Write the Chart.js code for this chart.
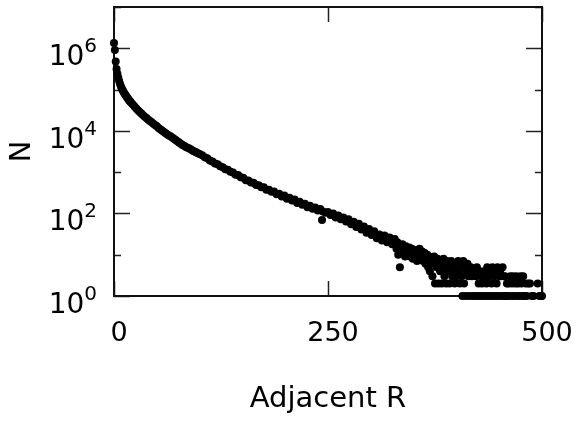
<!DOCTYPE html>
<html>
<head>
<meta charset="utf-8">
<script src="https://cdn.jsdelivr.net/npm/chart.js@4.4.1/dist/chart.umd.min.js"></script>
<style>
  html, body { margin: 0; padding: 0; background: #fff; }
</style>
</head>
<body>
<canvas id="myChart" width="577" height="423"></canvas>
<script>
// Distancia R y número de pares N
const adjacentR = [
    0, 1, 2, 3, 4, 5, 6, 7, 8, 9, 10, 11, 12, 13, 14, 15, 16, 17, 18, 19, 20,
    22, 24, 26, 28, 30, 32, 34, 36, 38, 40, 42, 44, 46, 48, 50, 52, 54, 56, 58, 60,
    62, 64, 66, 68, 70, 72, 74, 76, 78, 80, 82, 84, 86, 88, 90, 92, 94, 96, 98, 100,
    103, 106, 109, 112, 115, 118, 121, 124, 127, 130, 133, 136, 139, 142, 145, 148, 151, 154, 157, 160,
    163, 166, 169, 172, 175, 178, 181, 184, 187, 190, 193, 196, 199, 202, 205, 208, 211, 214, 217, 220,
    223, 226, 229, 232, 235, 238, 241, 243, 244, 247, 250, 253, 256, 259, 262, 265, 268, 271, 274, 277,
    280, 283, 286, 289, 292, 295, 298, 301, 304, 307, 310, 313, 316, 319, 322, 325, 328,
    330, 331, 332, 333, 334, 335, 336, 337, 338, 339, 340, 341, 342, 343, 344, 345, 346, 347, 348, 349,
    350, 352, 353, 354, 355, 356, 357, 358, 359, 360, 361, 362, 363, 364, 365, 366, 367, 368, 369, 370,
    371, 372, 373, 374, 375, 376, 377, 378, 379, 380, 381, 382, 383, 384, 385, 386, 387, 388, 389, 390,
    391, 392, 393, 394, 395, 396, 397, 398, 399, 400, 401, 402, 403, 404, 405, 406, 407, 408, 409, 410,
    411, 412, 413, 414, 415, 416, 417, 418, 419, 420, 421, 422, 423, 424, 425, 426, 427, 428, 429, 430,
    431, 432, 433, 434, 435, 436, 437, 438, 439, 440, 441, 442, 443, 444, 445, 446, 447, 448, 449, 450,
    451, 452, 453, 454, 455, 456, 457, 458, 459, 460, 461, 463, 464, 465, 466, 467, 469, 470, 471, 472,
    474, 475, 476, 477, 478, 479, 481, 482, 484, 486, 488, 490, 495, 497, 499, 500
];
const countN = [
    1350000, 912000, 479000, 316000, 240000, 195000, 162000, 138000, 120000, 107000, 97700, 89100, 81300, 75900, 70800, 66100, 61700, 57500, 53700, 51300, 47900,
    43700, 38900, 34700, 31600, 28800, 26300, 24000, 21900, 20400, 18600, 17400, 16200, 14800, 13800, 12900, 11700, 11000, 10200, 9550, 8910,
    8320, 7760, 7410, 6920, 6460, 6030, 5620, 5250, 4900, 4570, 4370, 4070, 3890, 3720, 3550, 3310, 3160, 3020, 2880, 2750,
    2560, 2290, 2180, 1910, 1810, 1620, 1550, 1380, 1320, 1170, 1150, 1020, 980, 866, 850, 755, 730, 640, 630, 560,
    555, 488, 482, 430, 428, 376, 372, 335, 338, 290, 301, 258, 270, 228, 241, 205, 216, 180, 193, 162,
    172, 141, 154, 130, 140, 118, 128, 69, 112, 104, 108, 92, 99, 80, 89, 72, 80, 64, 72, 55,
    63, 47, 56, 41, 48, 34, 42, 30, 37, 25, 31, 22, 29, 20, 26, 18, 24,
    14, 20, 10, 17, 5, 15, 12, 18, 11, 14, 9, 16, 12, 10, 13, 15, 9, 11, 14, 8,
    12, 10, 13, 7, 11, 9, 14, 8, 10, 12, 7, 9, 11, 6, 8, 10, 5, 9, 4, 7,
    8, 3, 6, 9, 2, 7, 5, 8, 2, 6, 4, 7, 2, 5, 8, 3, 6, 2, 7, 4,
    6, 2, 5, 7, 3, 6, 4, 2, 6, 3, 5, 7, 4, 2, 6, 3, 1, 7, 2, 5,
    1, 4, 6, 3, 1, 4, 5, 3, 1, 4, 4, 1, 3, 5, 1, 2, 4, 1, 3, 2,
    1, 4, 3, 1, 2, 5, 1, 3, 4, 1, 2, 5, 1, 3, 4, 1, 2, 5, 1, 3,
    4, 3, 1, 5, 3, 1, 3, 1, 2, 1, 2, 3, 1, 2, 3, 1, 2, 3, 1, 2,
    1, 3, 2, 1, 3, 1, 2, 1, 2, 2, 1, 1, 2, 1, 1, 1
];

// Ejes
const xTicks = [0, 250, 500];
const yTicks = [1, 10, 100, 1000, 10000, 100000, 1000000, 10000000];
const yTickExp = ['0', '', '2', '', '4', '', '6', ''];

const FAMILY = 'DejaVu Sans';
const FONT = { family: FAMILY, size: 27 };

// Marco con marcas hacia dentro en los cuatro lados
const frameTicks = {
    id: 'frameTicks',
    beforeDatasetsDraw(chart) {
        const { ctx, chartArea: a, scales: { x, y } } = chart;
        ctx.save();
        ctx.strokeStyle = '#222';
        ctx.lineWidth = 1.5;
        ctx.beginPath();
        y.ticks.forEach((t, i) => {
            const py = Math.round(y.getPixelForValue(t.value)) + 0.5;
            const len = yTickExp[i] ? 16 : 7;
            ctx.moveTo(a.left, py); ctx.lineTo(a.left + len, py);
            ctx.moveTo(a.right, py); ctx.lineTo(a.right - len, py);
        });
        x.ticks.forEach(t => {
            const px = Math.round(x.getPixelForValue(t.value)) + 0.5;
            ctx.moveTo(px, a.bottom); ctx.lineTo(px, a.bottom - 15);
            ctx.moveTo(px, a.top); ctx.lineTo(px, a.top + 15);
        });
        ctx.stroke();
        ctx.lineWidth = 2;
        ctx.strokeStyle = '#111';
        ctx.strokeRect(a.left, a.top, a.width, a.height);
        ctx.restore();
    },
    // etiquetas 10^n con exponente en superíndice
    afterDraw(chart) {
        const { ctx, chartArea: a, scales: { y } } = chart;
        ctx.save();
        ctx.fillStyle = '#000';
        ctx.textBaseline = 'alphabetic';
        const right = a.left - 17;
        y.ticks.forEach((t, i) => {
            if (!yTickExp[i]) return;
            const py = y.getPixelForValue(t.value);
            ctx.font = '20px "' + FAMILY + '"';
            const ew = ctx.measureText(yTickExp[i]).width;
            ctx.textAlign = 'left';
            ctx.fillText(yTickExp[i], right - ew, py + 4);
            ctx.font = '28px "' + FAMILY + '"';
            ctx.textAlign = 'right';
            ctx.fillText('10', right - ew, py + 17);
        });
        ctx.restore();
    }
};

const noPad = s => { s.paddingTop = 0; s.paddingBottom = 0; s.paddingLeft = 0; s.paddingRight = 0; };

const points = adjacentR.map((r, i) => ({ x: r, y: countN[i] }));

new Chart(document.getElementById('myChart').getContext('2d'), {
    type: 'scatter',
    data: {
        datasets: [{
            data: points,
            backgroundColor: '#000',
            borderWidth: 0,
            pointRadius: 4,
            clip: false
        }]
    },
    options: {
        responsive: false,
        animation: false,
        devicePixelRatio: 1,
        layout: { autoPadding: false, padding: { top: 7, right: 35, left: 0, bottom: 0 } },
        plugins: { legend: { display: false }, tooltip: { enabled: false } },
        scales: {
            x: {
                type: 'linear',
                min: 0,
                max: 500,
                afterBuildTicks: s => { s.ticks = xTicks.map(v => ({ value: v })); },
                afterFit: s => { s.height = 127; noPad(s); },
                grid: { display: false, drawTicks: false },
                border: { display: false },
                ticks: { color: '#000', font: FONT, padding: 22, labelOffset: 5, maxRotation: 0 },
                title: { display: true, text: 'Adjacent R', color: '#000', font: { family: FAMILY, size: 29 }, padding: { top: 0, bottom: 6 } }
            },
            y: {
                type: 'logarithmic',
                min: 1,
                max: 10000000,
                afterBuildTicks: s => { s.ticks = yTicks.map(v => ({ value: v })); },
                afterFit: s => { s.width = 114; noPad(s); },
                grid: { display: false, drawTicks: false },
                border: { display: false },
                ticks: { display: false },
                title: { display: true, text: 'N', color: '#000', font: { family: FAMILY, size: 29 }, padding: { top: 5, bottom: 0 } }
            }
        }
    },
    plugins: [frameTicks]
});
</script>
</body>
</html>
